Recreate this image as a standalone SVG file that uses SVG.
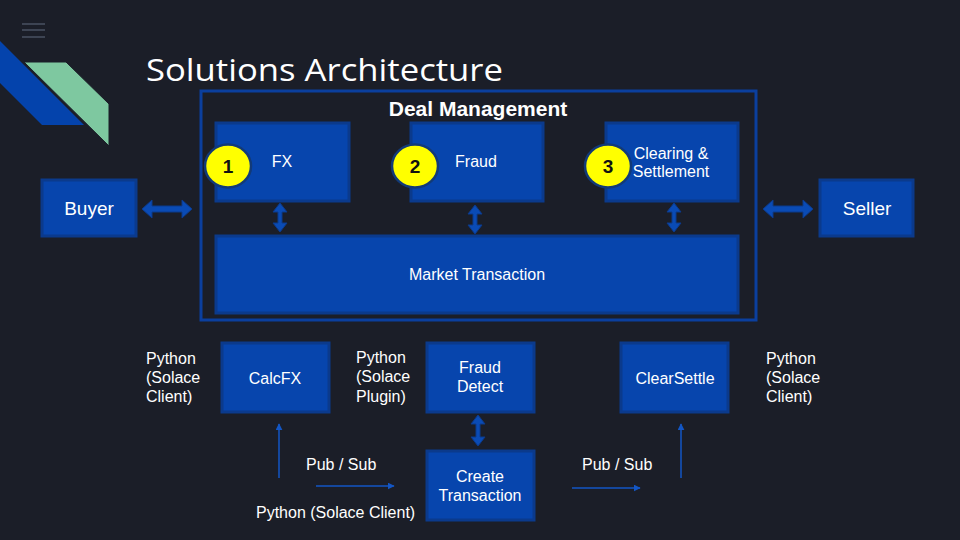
<svg xmlns="http://www.w3.org/2000/svg" width="960" height="540" viewBox="0 0 960 540">
<defs>
<style>
.box{fill:#0745ad;stroke:#0b3a8c;stroke-width:3}
.t{font-family:"Liberation Sans",Arial,sans-serif;fill:#ffffff;font-size:16px}
.tc{text-anchor:middle}
.big{font-size:19px}
.hdr{font-size:21px;font-weight:bold}
.num{font-family:"Liberation Sans",Arial,sans-serif;font-weight:bold;font-size:19px;fill:#111;text-anchor:middle}
.badge{fill:#ffff00;stroke:#123a78;stroke-width:2.5}
.fat{fill:#0a4bb5;stroke:#0b3a8c;stroke-width:1}
.thin{stroke:#1356c4;stroke-width:1.5;fill:none}
</style>
<marker id="ah" viewBox="0 0 10 10" refX="9" refY="5" markerWidth="7" markerHeight="7" orient="auto" markerUnits="userSpaceOnUse">
<path d="M0,0 L10,5 L0,10 z" fill="#1356c4"/>
</marker>
</defs>
<rect width="960" height="540" fill="#1b1e28"/>
<g id="menu" stroke="#3d4453" stroke-width="2">
<line x1="22" y1="24" x2="45" y2="24"/><line x1="22" y1="30" x2="45" y2="30"/><line x1="22" y1="37" x2="45" y2="37"/>
</g>
<g id="logo">
<polygon points="0,41 84,125 42,125 0,83" fill="#0443ac"/>
<polygon points="24,62 66,62 109,104 109,146" fill="#7ec8a0" stroke="#1b1e28" stroke-width="1"/>
</g>
<text x="146" y="81" font-family="'Open Sans',Lato,sans-serif" font-size="31" fill="#ffffff" textLength="357" lengthAdjust="spacingAndGlyphs">Solutions Architecture</text>

<g id="deal-management">
<rect x="201" y="91" width="555" height="229" fill="none" stroke="#0b3f9e" stroke-width="3"/>
<text x="478" y="116" class="t tc hdr">Deal Management</text>
</g>
<g id="fx"><rect class="box" x="216" y="123" width="133" height="78"/><text class="t tc" x="282" y="167">FX</text></g>
<g id="fraud"><rect class="box" x="411" y="123" width="132" height="78"/><text class="t tc" x="476" y="167">Fraud</text></g>
<g id="clearing"><rect class="box" x="606" y="123" width="132" height="78"/><text class="t tc" x="671" y="159">Clearing &amp;</text><text class="t tc" x="671" y="177">Settlement</text></g>
<g id="market"><rect class="box" x="216" y="236" width="522" height="77"/><text class="t tc" x="477" y="280">Market Transaction</text></g>
<g id="badge1"><ellipse class="badge" cx="228" cy="166" rx="23" ry="21.5"/><text class="num" x="228" y="173">1</text></g>
<g id="badge2"><ellipse class="badge" cx="415" cy="166" rx="23" ry="21.5"/><text class="num" x="415" y="173">2</text></g>
<g id="badge3"><ellipse class="badge" cx="608" cy="166" rx="23" ry="21.5"/><text class="num" x="608" y="173">3</text></g>
<g id="buyer"><rect class="box" x="42" y="180" width="94" height="56"/><text class="t tc big" x="89" y="215">Buyer</text></g>
<g id="seller"><rect class="box" x="820" y="180" width="93" height="56"/><text class="t tc big" x="867" y="215">Seller</text></g>

<g id="calcfx"><rect class="box" x="222" y="343" width="107" height="69"/><text class="t tc" x="275" y="384">CalcFX</text></g>
<g id="fraud-detect"><rect class="box" x="427" y="343" width="107" height="69"/><text class="t tc" x="480" y="373">Fraud</text><text class="t tc" x="480" y="392">Detect</text></g>
<g id="clearsettle"><rect class="box" x="621" y="343" width="107" height="69"/><text class="t tc" x="675" y="384">ClearSettle</text></g>
<g id="create-transaction"><rect class="box" x="427" y="451" width="107" height="69"/><text class="t tc" x="480" y="482">Create</text><text class="t tc" x="480" y="501">Transaction</text></g>

<g id="connectors">
<polygon class="fat" points="142,209 152,200 152,206 182,206 182,200 192,209 182,218 182,212 152,212 152,218"/>
<polygon class="fat" points="763,209 773,200 773,206 803,206 803,200 813,209 803,218 803,212 773,212 773,218"/>
<polygon class="fat" points="280,203 287,212 282,212 282,223 287,223 280,232 273,223 278,223 278,212 273,212"/>
<polygon class="fat" points="475,205 482,214 477,214 477,225 482,225 475,234 468,225 473,225 473,214 468,214"/>
<polygon class="fat" points="674,203 681,212 676,212 676,223 681,223 674,232 667,223 672,223 672,212 667,212"/>
<polygon class="fat" points="478,415 485,424 480,424 480,437 485,437 478,446 471,437 476,437 476,424 471,424"/>
<line class="thin" x1="279" y1="478" x2="279" y2="424" marker-end="url(#ah)"/>
<line class="thin" x1="316" y1="486" x2="394" y2="486" marker-end="url(#ah)"/>
<line class="thin" x1="572" y1="488" x2="640" y2="488" marker-end="url(#ah)"/>
<line class="thin" x1="681" y1="478" x2="681" y2="424" marker-end="url(#ah)"/>
</g>

<g id="labels">
<text class="t" x="146" y="364">Python</text><text class="t" x="146" y="383">(Solace</text><text class="t" x="146" y="402">Client)</text>
<text class="t" x="356" y="363">Python</text><text class="t" x="356" y="382">(Solace</text><text class="t" x="356" y="402">Plugin)</text>
<text class="t" x="766" y="364">Python</text><text class="t" x="766" y="383">(Solace</text><text class="t" x="766" y="402">Client)</text>
<text class="t" x="306" y="470">Pub / Sub</text>
<text class="t" x="582" y="470">Pub / Sub</text>
<text class="t" x="256" y="518">Python (Solace Client)</text>
</g>
</svg>
